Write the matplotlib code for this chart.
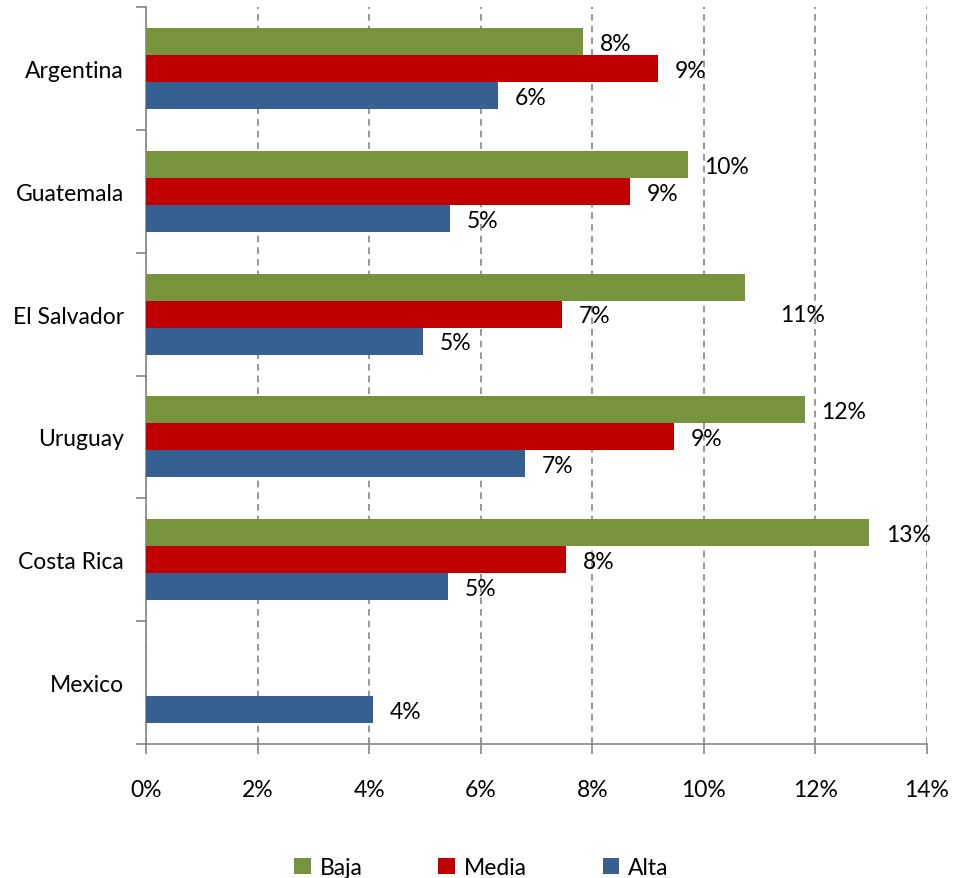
import matplotlib.pyplot as plt
import numpy as np

plt.rcParams['font.family'] = ['Lato', 'DejaVu Sans']

countries = ['Argentina', 'Guatemala', 'El Salvador', 'Uruguay', 'Costa Rica', 'Mexico']
baja = [7.83, 9.71, 10.74, 11.81, 12.96, None]
media = [9.18, 8.68, 7.46, 9.46, 7.53, None]
alta = [6.31, 5.45, 4.97, 6.79, 5.41, 4.07]

series = [('Baja', baja, '#77933C', -0.22),
          ('Media', media, '#C00000', 0.0),
          ('Alta', alta, '#376092', 0.22)]

# one label sits off its bar (El Salvador, Baja)
label_shift = {('Baja', 2): (0.33, 0.21)}


def main():
    fig = plt.figure(figsize=(9.63, 8.79), dpi=100)
    ax = fig.add_axes([0.1516, 0.1524, 0.8110, 0.8385])

    y = np.arange(len(countries))
    bar_h = 0.22
    grey = '#868686'

    for name, vals, color, off in series:
        ys = [yy + off for yy, v in zip(y, vals) if v is not None]
        xs = [v for v in vals if v is not None]
        ax.barh(ys, xs, height=bar_h, color=color, label=name, zorder=3)
        for i, v in enumerate(vals):
            if v is None:
                continue
            dx, dy = label_shift.get((name, i), (0, 0))
            ax.text(v + 0.3 + dx, y[i] + off + dy + 0.015, f'{round(v):.0f}%',
                    ha='left', va='center', fontsize=16.5, zorder=4)

    ax.set_xlim(0, 14)
    ax.set_ylim(len(countries) - 0.5, -0.5)

    ax.set_xticks(np.arange(0, 15, 2))
    ax.set_xticklabels([f'{t}%' for t in range(0, 15, 2)], fontsize=16.5)
    ax.tick_params(axis='x', direction='out', length=7, width=1.2,
                   color=grey, pad=18)

    ax.set_yticks(np.arange(-0.5, len(countries), 1))
    ax.set_yticklabels([])
    ax.set_yticks(y, minor=True)
    ax.set_yticklabels(countries, minor=True, fontsize=16.5)
    ax.tick_params(axis='y', which='major', direction='out', length=7,
                   width=1.2, color=grey)
    ax.tick_params(axis='y', which='minor', length=0, pad=16)

    ax.grid(axis='x', linestyle=(0, (4, 3)), color=grey, linewidth=1.2, zorder=0)
    for side in ['top', 'right']:
        ax.spines[side].set_visible(False)
    for side in ['left', 'bottom']:
        ax.spines[side].set_color(grey)
        ax.spines[side].set_linewidth(1.2)

    fig.legend(loc='center', bbox_to_anchor=(0.5, 0.012), ncol=3,
               frameon=False, fontsize=16.5, handlelength=0.72,
               handleheight=0.72, handletextpad=0.4, columnspacing=3.3)

    fig.savefig('out.png', dpi=100)


if __name__ == '__main__':
    main()
